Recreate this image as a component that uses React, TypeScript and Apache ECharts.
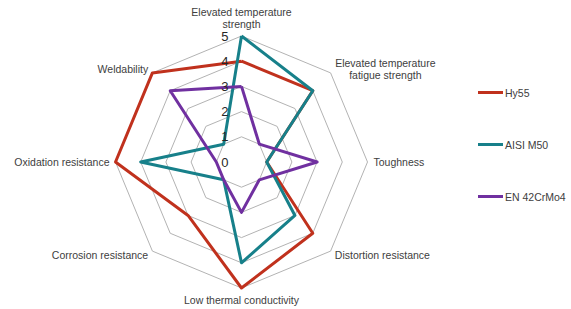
import React, { useEffect, useRef } from "react";
import * as echarts from "echarts";

// Axes listed counter-clockwise starting at the top (ECharts radar order)
const categories = [
  "Elevated temperature\nstrength",
  "Weldability",
  "Oxidation resistance",
  "Corrosion resistance",
  "Low thermal conductivity",
  "Distortion resistance",
  "Toughness",
  "Elevated temperature\nfatigue strength",
];
const seriesNames = ["Hy55", "AISI M50", "EN 42CrMo4"];
const hy55 = [4, 5, 5, 3, 5, 4, 1, 4];
const aisiM50 = [5, 1, 4, 1, 4, 3, 1, 4];
const en42CrMo4 = [3, 4, 1, 1, 2, 1, 3, 1];
const tickLabels = ["0", "1", "2", "3", "4", "5"];
const colors = ["#C0311D", "#17808A", "#7030A0"];

export default function App() {
  const ref = useRef<HTMLDivElement>(null);
  useEffect(() => {
    if (!ref.current) return;
    const chart = echarts.init(ref.current, null, { renderer: "svg" });
    const cx = 241.5;
    const cy = 162;
    const R = 126;
    const font = "Liberation Sans, Arial, sans-serif";
    const values = [hy55, aisiM50, en42CrMo4];
    chart.setOption({
      animation: false,
      backgroundColor: "#ffffff",
      color: colors,
      textStyle: { fontFamily: font },
      legend: {
        orient: "vertical",
        left: 473,
        top: 82,
        itemGap: 41,
        itemWidth: 25,
        itemHeight: 3,
        icon: "rect",
        data: seriesNames,
        textStyle: { fontSize: 10.5, color: "#404040", fontFamily: font, padding: [0, 0, 0, -3] },
      },
      radar: {
        center: [cx, cy],
        radius: R,
        startAngle: 90,
        shape: "polygon",
        splitNumber: 5,
        indicator: categories.map((name) => ({ name, min: 0, max: 5 })),
        axisName: {
          color: "#404040",
          fontSize: 10.5,
          fontFamily: font,
          lineHeight: 12,
          formatter: (name: string) =>
            name.indexOf("\n") >= 0
              ? name
                  .split("\n")
                  .map((l) => `{c|${l}}`)
                  .join("\n")
              : name,
          rich: {
            c: {
              width: 101,
              align: "center",
              fontSize: 10.5,
              lineHeight: 12,
              color: "#404040",
              fontFamily: font,
            },
          },
        },
        nameGap: 6,
        axisLine: { show: false },
        axisTick: { show: false },
        axisLabel: { show: false },
        splitLine: { lineStyle: { color: "#b3b3b3", width: 1 } },
        splitArea: { show: false },
        z: 1,
      },
      grid: { left: cx, top: cy - R, height: R, width: 1, containLabel: false, z: 20 },
      xAxis: { type: "value", show: false, min: 0, max: 1 },
      yAxis: {
        type: "value",
        min: 0,
        max: 5,
        interval: 1,
        axisLine: { show: false },
        axisTick: { show: false },
        splitLine: { show: false },
        axisLabel: {
          margin: 13,
          fontSize: 13,
          lineHeight: 10,
          color: "#262626",
          fontFamily: font,
          formatter: (v: number) => tickLabels[Math.round(v)] ?? "",
        },
        z: 20,
      },
      series: [
        {
          type: "radar",
          symbol: "none",
          z: 2,
          data: seriesNames.map((name, i) => ({
            name,
            value: values[i],
            lineStyle: { color: colors[i], width: 3 },
            itemStyle: { color: colors[i] },
          })),
        },
      ],
    });
    return () => chart.dispose();
  }, []);
  return (
    <div
      ref={ref}
      style={{ position: "fixed", left: 0, top: 0, width: 571, height: 309, background: "#fff" }}
    />
  );
}
